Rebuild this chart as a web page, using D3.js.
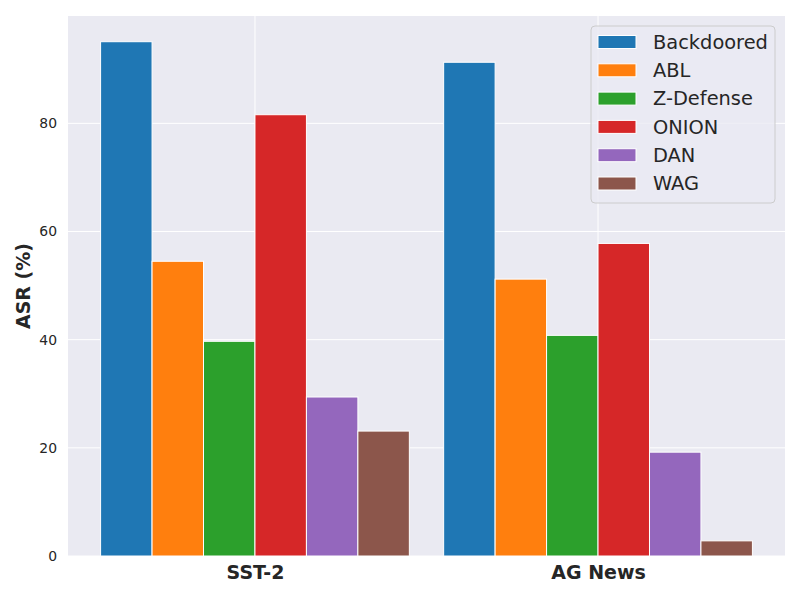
<!DOCTYPE html>
<html>
<head>
<meta charset="utf-8">
<script src="https://cdn.jsdelivr.net/npm/d3@7"></script>
<style>
  body { margin: 0; background: #fff; }
  text { font-family: "DejaVu Sans", sans-serif; fill: #262626; }
</style>
</head>
<body>
<div id="chart"></div>
<script>
// grouped bars: ASR per defense method, per dataset

const datasets = ["SST-2", "AG News"];
const methods = ["Backdoored", "ABL", "Z-Defense", "ONION", "DAN", "WAG"];
const colors = ["#1f77b4", "#ff7f0e", "#2ca02c", "#d62728", "#9467bd", "#8c564b"];

// one array per method, values in dataset order
const backdoored = [95.1, 91.3];
const abl = [54.5, 51.2];
const zDefense = [39.7, 40.8];
const onion = [81.6, 57.8];
const dan = [29.4, 19.2];
const wag = [23.1, 2.8];
const seriesValues = [backdoored, abl, zDefense, onion, dan, wag];

const yTicks = [0, 20, 40, 60, 80];

const width = 800, height = 600;
const margin = { top: 16, right: 15, bottom: 44, left: 68 };
const innerW = width - margin.left - margin.right;
const innerH = height - margin.top - margin.bottom;

const svg = d3.select("#chart")
  .append("svg")
  .attr("width", width)
  .attr("height", height)
  .attr("viewBox", `0 0 ${width} ${height}`);

const g = svg.append("g")
  .attr("transform", `translate(${margin.left},${margin.top})`);

// matplotlib-like limits: bars span [-0.45, 1.45] plus 5% margins
const x = d3.scaleLinear().domain([-0.545, 1.545]).range([0, innerW]);
const inner = d3.scaleBand().domain(methods).range([-0.45, 0.45]);
const yMax = d3.max(seriesValues, s => d3.max(s)) * 1.05;
const y = d3.scaleLinear().domain([0, yMax]).range([innerH, 0]);

// background
g.append("rect")
  .attr("width", innerW)
  .attr("height", innerH)
  .attr("fill", "#eaeaf2");

// grid
g.append("g")
  .selectAll("line")
  .data(yTicks)
  .join("line")
  .attr("x1", 0).attr("x2", innerW)
  .attr("y1", d => y(d)).attr("y2", d => y(d))
  .attr("stroke", "#fff").attr("stroke-width", 1);

g.append("g")
  .selectAll("line")
  .data(datasets)
  .join("line")
  .attr("x1", (d, i) => x(i)).attr("x2", (d, i) => x(i))
  .attr("y1", 0).attr("y2", innerH)
  .attr("stroke", "#fff").attr("stroke-width", 1);

// bars
const barData = [];
methods.forEach((m, j) => {
  datasets.forEach((ds, i) => {
    barData.push({ method: m, color: colors[j], idx: i, value: seriesValues[j][i] });
  });
});

g.append("g")
  .selectAll("rect")
  .data(barData)
  .join("rect")
  .attr("x", d => x(d.idx + inner(d.method)))
  .attr("width", x(inner.bandwidth()) - x(0))
  .attr("y", d => y(d.value))
  .attr("height", d => innerH - y(d.value))
  .attr("fill", d => d.color)
  .attr("stroke", "#fff")
  .attr("stroke-width", 1);

// y axis
const yAxis = g.append("g")
  .call(d3.axisLeft(y).tickValues(yTicks).tickSize(0).tickPadding(11));
yAxis.select(".domain").remove();
yAxis.selectAll("text")
  .style("font-family", "DejaVu Sans, sans-serif")
  .style("font-size", "13.9px")
  .attr("fill", "#262626");

// x axis
const xAxis = g.append("g")
  .attr("transform", `translate(0,${innerH})`)
  .call(d3.axisBottom(x).tickValues([0, 1]).tickFormat(i => datasets[i]).tickSize(0).tickPadding(10));
xAxis.select(".domain").remove();
xAxis.selectAll("text")
  .style("font-family", "DejaVu Sans, sans-serif")
  .style("font-size", "19px")
  .style("font-weight", "bold")
  .attr("fill", "#262626");

// y label
svg.append("text")
  .attr("transform", `translate(30,${margin.top + innerH / 2}) rotate(-90)`)
  .attr("text-anchor", "middle")
  .style("font-size", "19px")
  .style("font-weight", "bold")
  .text("ASR (%)");

// legend
const legend = svg.append("g").attr("transform", "translate(591,26)");
legend.append("rect")
  .attr("width", 184)
  .attr("height", 177)
  .attr("rx", 4)
  .attr("fill", "#eaeaf2")
  .attr("fill-opacity", 0.8)
  .attr("stroke", "#cccccc")
  .attr("stroke-width", 1);

const rows = legend.selectAll("g.row")
  .data(methods)
  .join("g")
  .attr("class", "row")
  .attr("transform", (d, i) => `translate(0,${16 + i * 28.3})`);

rows.append("rect")
  .attr("x", 7).attr("y", -6.5)
  .attr("width", 38).attr("height", 13)
  .attr("fill", (d, i) => colors[i])
  .attr("stroke", "#fff").attr("stroke-width", 1);

rows.append("text")
  .attr("x", 62)
  .attr("dy", "0.35em")
  .style("font-size", "19.4px")
  .text(d => d);
</script>
</body>
</html>
